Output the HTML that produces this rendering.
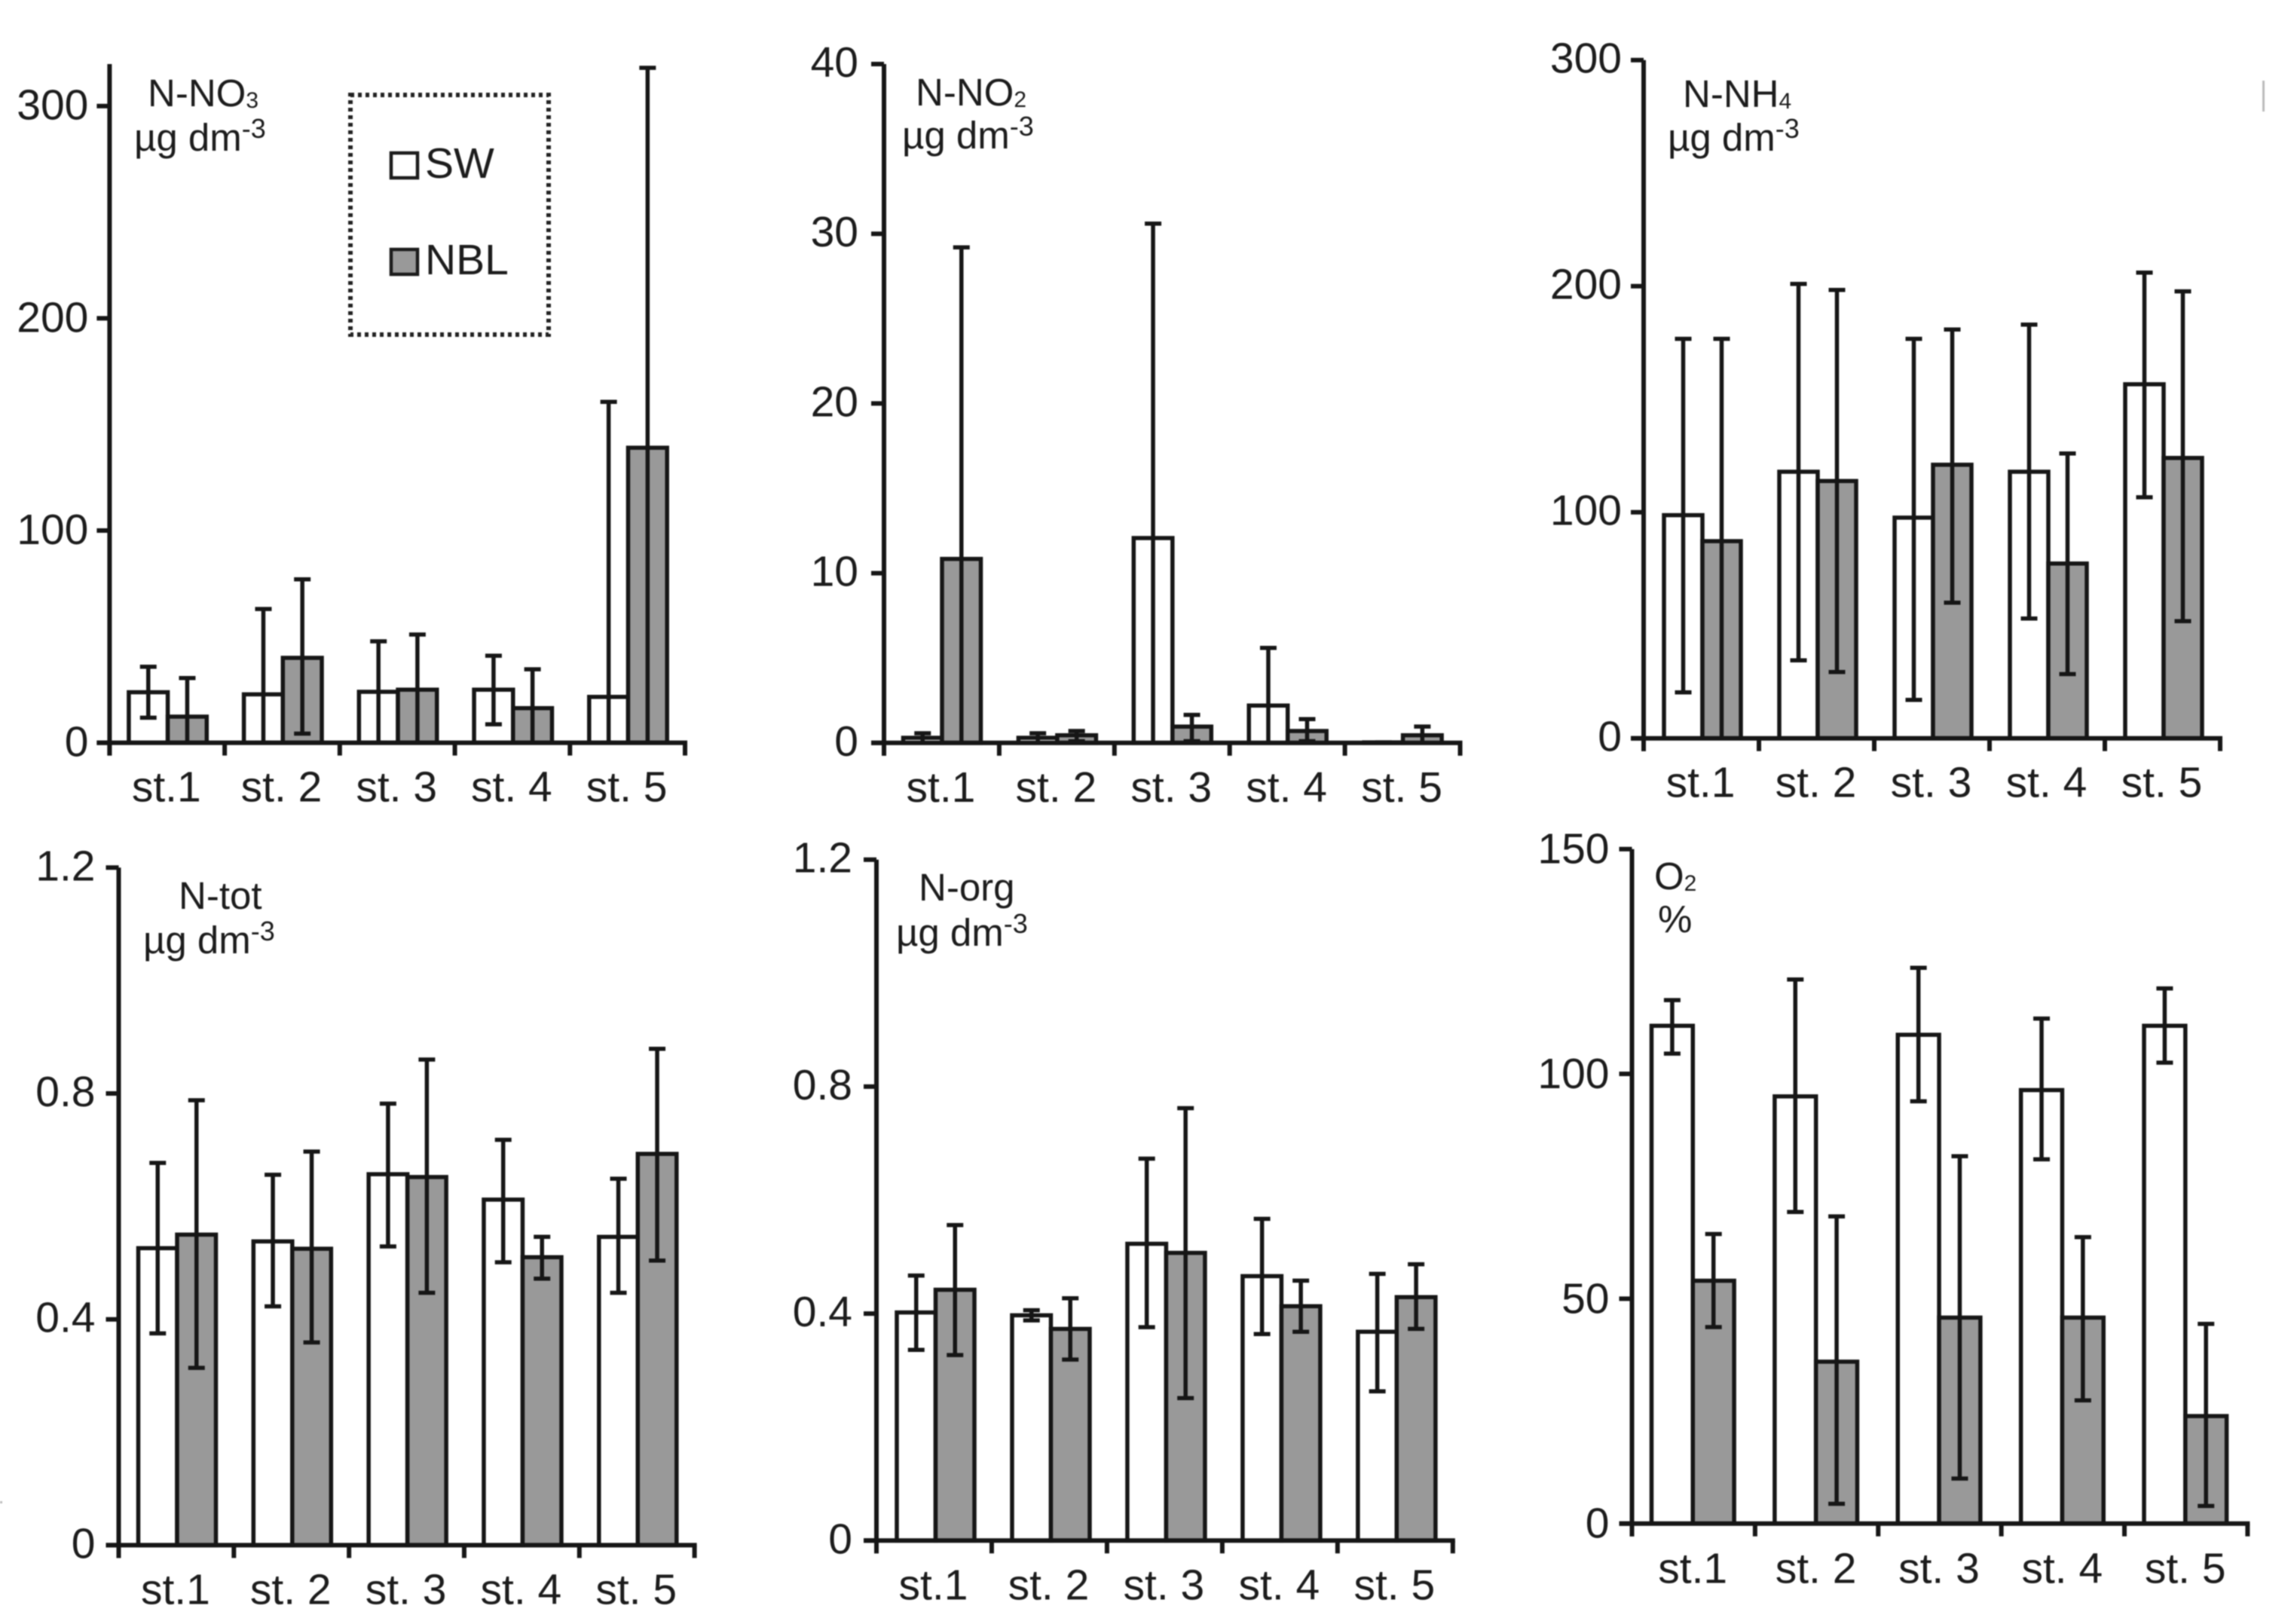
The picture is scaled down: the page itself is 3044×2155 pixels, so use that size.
<!DOCTYPE html>
<html lang="en">
<head>
<meta charset="utf-8">
<title>Nitrogen forms and oxygen at five stations</title>
<style>
html,body{margin:0;padding:0;background:#fff;}
body{width:3044px;height:2155px;overflow:hidden;}
svg{display:block;filter:blur(0.9px);}
text{font-family:"Liberation Sans",sans-serif;fill:#1c1c1c;}
.lab{font-size:51px;}
.sub{font-size:30px;}
.sup{font-size:36px;}
.tick{font-size:57px;}
</style>
</head>
<body>
<svg id="chart" xmlns="http://www.w3.org/2000/svg" width="3044" height="2155" viewBox="0 0 3044 2155">
  <rect x="0" y="0" width="3044" height="2155" fill="#fff"/>
  <g id="panels"></g>

  <g>
    <rect x="465" y="126" width="263" height="318" fill="none" stroke="#222" stroke-width="6" stroke-dasharray="5 5"/>
    <rect x="519" y="203" width="35" height="33" fill="#fff" stroke="#1c1c1c" stroke-width="4.5"/>
    <text class="tick" x="564" y="236">SW</text>
    <rect x="519" y="331" width="35" height="33" fill="#999" stroke="#1c1c1c" stroke-width="4.5"/>
    <text class="tick" x="564" y="364">NBL</text>
  </g>

  <text class="lab" x="196" y="141">N-NO<tspan class="sub" dy="2">3</tspan></text>
  <text class="lab" x="178" y="200">µg dm<tspan class="sup" dy="-17">-3</tspan></text>

  <text class="lab" x="1215" y="140">N-NO<tspan class="sub" dy="2">2</tspan></text>
  <text class="lab" x="1197" y="197">µg dm<tspan class="sup" dy="-17">-3</tspan></text>

  <text class="lab" x="2233" y="142">N-NH<tspan class="sub" dy="2">4</tspan></text>
  <text class="lab" x="2213" y="200">µg dm<tspan class="sup" dy="-17">-3</tspan></text>

  <text class="lab" x="237" y="1206">N-tot</text>
  <text class="lab" x="190" y="1265">µg dm<tspan class="sup" dy="-17">-3</tspan></text>

  <text class="lab" x="1219" y="1195">N-org</text>
  <text class="lab" x="1189" y="1255">µg dm<tspan class="sup" dy="-17">-3</tspan></text>

  <text class="lab" x="2195" y="1180">O<tspan class="sub" dy="2">2</tspan></text>
  <text class="lab" x="2200" y="1237">%</text>

  <rect x="3002" y="107" width="3" height="41" fill="#bbb"/>
  <rect x="0" y="1992" width="3" height="3" fill="#bbb"/>
</svg>

<script>
// Shared categories
const stations = ['st.1', 'st. 2', 'st. 3', 'st. 4', 'st. 5'];

// N-NO3
const no3Ticks = [0, 100, 200, 300];
const no3TickLabels = ['0', '100', '200', '300'];
const no3Sw = [23.8, 22.8, 24, 25, 21.6];
const no3SwHigh = [35.8, 63, 47.8, 41, 160.6];
const no3SwLow = [11.8, 0, 0, 8.7, 0];
const no3Nbl = [12.3, 40, 25, 16.3, 139];
const no3NblHigh = [30.5, 77, 51, 34.6, 318];
const no3NblLow = [0, 4.3, 0, 0, 0];

// N-NO2
const no2Ticks = [0, 10, 20, 30, 40];
const no2TickLabels = ['0', '10', '20', '30', '40'];
const no2Sw = [0.3, 0.3, 12.07, 2.2, 0.03];
const no2SwHigh = [0.57, 0.57, 30.6, 5.6, 0.03];
const no2SwLow = [0, 0, 0, 0, 0];
const no2Nbl = [10.84, 0.45, 0.96, 0.7, 0.45];
const no2NblHigh = [29.2, 0.7, 1.65, 1.4, 0.96];
const no2NblLow = [0, 0.1, 0.1, 0.1, 0];

// N-NH4
const nh4Ticks = [0, 100, 200, 300];
const nh4TickLabels = ['0', '100', '200', '300'];
const nh4Sw = [98.7, 117.9, 97.6, 117.9, 156.6];
const nh4SwHigh = [176.7, 201, 176.7, 183, 206];
const nh4SwLow = [20.3, 34.5, 17, 53, 106.6];
const nh4Nbl = [87.2, 113.8, 121, 77.3, 124];
const nh4NblHigh = [176.7, 198.3, 180.8, 126, 197.7];
const nh4NblLow = [0, 29.3, 60, 28.4, 51.8];

// N-tot
const totTicks = [0, 0.4, 0.8, 1.2];
const totTickLabels = ['0', '0.4', '0.8', '1.2'];
const totSw = [0.526, 0.538, 0.657, 0.612, 0.546];
const totSwHigh = [0.677, 0.656, 0.782, 0.718, 0.649];
const totSwLow = [0.375, 0.423, 0.529, 0.501, 0.447];
const totNbl = [0.55, 0.525, 0.652, 0.51, 0.693];
const totNblHigh = [0.788, 0.697, 0.86, 0.546, 0.879];
const totNblLow = [0.314, 0.359, 0.447, 0.472, 0.504];

// N-org
const orgTicks = [0, 0.4, 0.8, 1.2];
const orgTickLabels = ['0', '0.4', '0.8', '1.2'];
const orgSw = [0.402, 0.397, 0.523, 0.466, 0.368];
const orgSwHigh = [0.467, 0.406, 0.673, 0.567, 0.47];
const orgSwLow = [0.336, 0.388, 0.376, 0.364, 0.263];
const orgNbl = [0.442, 0.373, 0.507, 0.413, 0.429];
const orgNblHigh = [0.556, 0.427, 0.762, 0.458, 0.487];
const orgNblLow = [0.327, 0.319, 0.251, 0.368, 0.373];

// O2
const o2Ticks = [0, 50, 100, 150];
const o2TickLabels = ['0', '50', '100', '150'];
const o2Sw = [110.7, 95, 108.7, 96.4, 110.7];
const o2SwHigh = [116.4, 121, 123.6, 112.3, 119];
const o2SwLow = [104.5, 69.3, 93.9, 81, 102.5];
const o2Nbl = [54, 36, 45.8, 45.8, 23.9];
const o2NblHigh = [64.4, 68.3, 81.7, 63.7, 44.4];
const o2NblLow = [43.7, 4.4, 10, 27.4, 3.9];

// Panel frames (layout only)
const panels = [
  {id:'n-no3', left:145.4, right:909, base:985.6, top:140.7, axisTop:85, max:300, offset:25.5, barW:51.7, labelGap:28, labelDy:18,
   ticks:no3Ticks, labels:no3TickLabels, sw:no3Sw, swHigh:no3SwHigh, swLow:no3SwLow, nbl:no3Nbl, nblHigh:no3NblHigh, nblLow:no3NblLow, xLabelDy:78},
  {id:'n-no2', left:1173, right:1937.5, base:985.8, top:85, axisTop:85, max:40, offset:25.5, barW:51.5, labelGap:34, labelDy:17,
   ticks:no2Ticks, labels:no2TickLabels, sw:no2Sw, swHigh:no2SwHigh, swLow:no2SwLow, nbl:no2Nbl, nblHigh:no2NblHigh, nblLow:no2NblLow, xLabelDy:78},
  {id:'n-nh4', left:2181, right:2946, base:979.7, top:79.7, axisTop:79.7, max:300, offset:27, barW:51, labelGap:29, labelDy:17,
   ticks:nh4Ticks, labels:nh4TickLabels, sw:nh4Sw, swHigh:nh4SwHigh, swLow:nh4SwLow, nbl:nh4Nbl, nblHigh:nh4NblHigh, nblLow:nh4NblLow, xLabelDy:78},
  {id:'n-tot', left:157.5, right:921.6, base:2050.4, top:1151.3, axisTop:1151.3, max:1.2, offset:26, barW:51.5, labelGap:31, labelDy:17,
   ticks:totTicks, labels:totTickLabels, sw:totSw, swHigh:totSwHigh, swLow:totSwLow, nbl:totNbl, nblHigh:totNblHigh, nblLow:totNblLow, xLabelDy:78},
  {id:'n-org', left:1163, right:1927.8, base:2044.3, top:1140.7, axisTop:1140.7, max:1.2, offset:27, barW:51.5, labelGap:32, labelDy:17,
   ticks:orgTicks, labels:orgTickLabels, sw:orgSw, swHigh:orgSwHigh, swLow:orgSwLow, nbl:orgNbl, nblHigh:orgNblHigh, nblLow:orgNblLow, xLabelDy:78},
  {id:'o2', left:2165.5, right:2982.4, base:2021.7, top:1126.7, axisTop:1126.7, max:150, offset:26, barW:54.8, labelGap:30, labelDy:19,
   ticks:o2Ticks, labels:o2TickLabels, sw:o2Sw, swHigh:o2SwHigh, swLow:o2SwLow, nbl:o2Nbl, nblHigh:o2NblHigh, nblLow:o2NblLow, xLabelDy:79}
];

const NS = 'http://www.w3.org/2000/svg';
const INK = '#161616';
const root = document.getElementById('panels');

function lineEl(parent, x1, y1, x2, y2, width) {
  const el = document.createElementNS(NS, 'line');
  el.setAttribute('x1', x1);
  el.setAttribute('y1', y1);
  el.setAttribute('x2', x2);
  el.setAttribute('y2', y2);
  el.setAttribute('stroke', INK);
  el.setAttribute('stroke-width', width);
  parent.appendChild(el);
  return el;
}

function drawBar(group, x, w, y, base, fill) {
  const el = document.createElementNS(NS, 'rect');
  el.setAttribute('x', x);
  el.setAttribute('y', y);
  el.setAttribute('width', w);
  el.setAttribute('height', Math.max(0, base - y));
  el.setAttribute('fill', fill);
  el.setAttribute('stroke', INK);
  el.setAttribute('stroke-width', 5.5);
  group.appendChild(el);
  return el;
}

function drawError(group, cx, yHigh, yLow) {
  const stem = lineEl(group, cx, yHigh, cx, yLow, 5.5);
  
  
  const capTop = lineEl(group, cx - 11, yHigh, cx + 11, yHigh, 5.5);
  
  
  const capLow = lineEl(group, cx - 11, yLow, cx + 11, yLow, 5.5);
  
  
}

panels.forEach(function (p) {
  const g = document.createElementNS(NS, 'g');
  
  
  root.appendChild(g);

  const yScale = function (v) { return p.base - (v / p.max) * (p.base - p.top); };
  const cat = (p.right - p.left) / stations.length;
  const xBand = function (i) { return p.left + i * cat; };

  stations.forEach(function (name, i) {
    const left = xBand(i) + p.offset;

    const swBar = drawBar(g, left, p.barW, yScale(p.sw[i]), p.base, '#fff');
    
    

    const nblBar = drawBar(g, left + p.barW, p.barW, yScale(p.nbl[i]), p.base, '#999');
    
    

    drawError(g, left + p.barW / 2, yScale(p.swHigh[i]), yScale(p.swLow[i]));
    drawError(g, left + p.barW * 1.5, yScale(p.nblHigh[i]), yScale(p.nblLow[i]));

    const lab = document.createElementNS(NS, 'text');
    
    
    lab.setAttribute('class', 'tick');
    lab.setAttribute('x', xBand(i) + cat / 2 - 1);
    lab.setAttribute('y', p.base + p.xLabelDy);
    lab.setAttribute('text-anchor', 'middle');
    lab.textContent = name;
    g.appendChild(lab);
  });

  const yAxis = lineEl(g, p.left, p.axisTop, p.left, p.base + 17, 6);
  
  

  const xAxis = lineEl(g, p.left - 17, p.base, p.right + 3, p.base, 6);
  
  

  for (let i = 0; i <= stations.length; i++) {
    const xt = lineEl(g, xBand(i), p.base, xBand(i), p.base + 17, 6);
    
    
  }

  p.ticks.forEach(function (v, i) {
    const yt = lineEl(g, p.left - 17, yScale(v), p.left, yScale(v), 6);
    
    

    const t = document.createElementNS(NS, 'text');
    
    
    t.setAttribute('class', 'tick');
    t.setAttribute('x', p.left - p.labelGap);
    t.setAttribute('y', yScale(v) + p.labelDy);
    t.setAttribute('text-anchor', 'end');
    t.textContent = p.labels[i];
    g.appendChild(t);
  });
});
</script>
</body>
</html>
